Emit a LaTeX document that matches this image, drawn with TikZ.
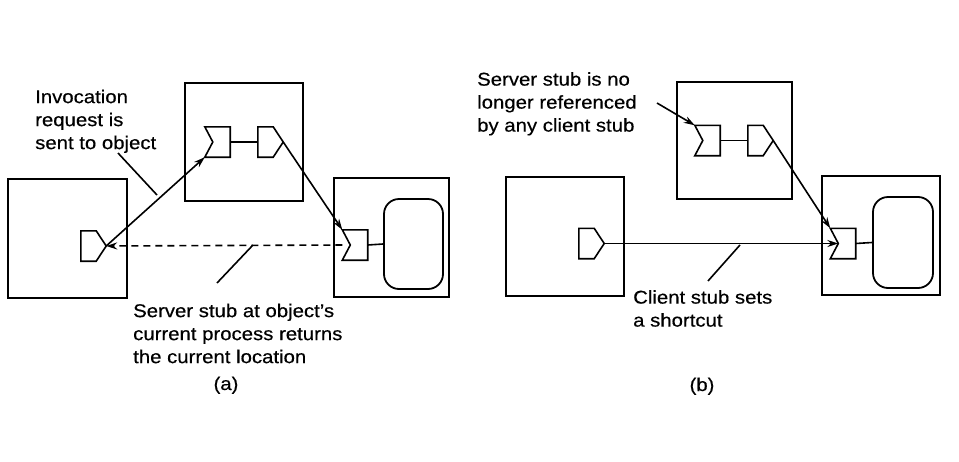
\documentclass[tikz,border=0pt]{standalone}
\usepackage{fontspec}
\setmainfont{Liberation Sans}[FakeStretch=1.1,FakeBold=0.4]
\usetikzlibrary{arrows.meta}
\newcommand\drawserver[1]{\draw[stubline] (#1.north west) -- (#1.north east) -- (#1.south east) -- (#1.south west) -- ([xshift=8pt]#1.west) -- cycle;}
\newcommand\drawclient[1]{\draw[stubline] (#1.north west) -- ([xshift=-10pt]#1.north east) -- (#1.east) -- ([xshift=-10pt]#1.south east) -- (#1.south west) -- cycle;}
\begin{document}
\begin{tikzpicture}[x=1pt,y=-1pt,
  frame/.style={draw, line width=1.8pt, inner sep=0pt},
  objbox/.style={draw, line width=1.8pt, inner sep=0pt, rounded corners=15pt},
  stubnode/.style={inner sep=0pt, minimum width=25pt, minimum height=30pt},
  stubline/.style={line width=1.6pt, line join=miter},
  conn/.style={line width=1.6pt},
  arr/.style={conn, -{Stealth[length=11pt,width=7pt]}},
  lbl/.style={anchor=north west, inner sep=0pt, align=left, font=\fontsize{18.5}{23}\selectfont},
  captext/.style={anchor=base, inner sep=0pt, font=\fontsize{18.5}{23}\selectfont},
]
\useasboundingbox (0,0) rectangle (959,461);
\fill[white] (0,0) rectangle (959,461);

% ---------- panel (a) ----------
\node[frame, minimum width=119pt, minimum height=119pt] (A1) at (67.5,238.5) {};
\node[frame, minimum width=118pt, minimum height=118pt] (A2) at (244,142) {};
\node[frame, minimum width=115pt, minimum height=119pt] (A3) at (391.5,237.5) {};
\node[objbox, minimum width=59pt, minimum height=90pt] (O1) at (413.5,244) {};

\node[stubnode] (cs1) at (93.5,246) {};
\node[stubnode] (ss1) at (217.5,142) {};
\node[stubnode] (cs2) at (270.5,142) {};
\node[stubnode] (ss2) at (355,245) {};
\drawclient{cs1}
\drawserver{ss1}
\drawclient{cs2}
\drawserver{ss2}
\draw[conn] (ss1.east) -- (cs2.west);
\draw[conn] (ss2.east) -- (O1.west);

\draw[arr] (cs1.east) -- (ss1.south west);
\draw[arr] (cs2.east) -- (ss2.north west);
\draw[arr, dashed, dash pattern=on 7pt off 5pt] (ss2.west) -- (cs1.east);

\node[lbl] (L1) at (35,89.5) {Invocation\\request is\\sent to object};
\coordinate (p1a) at (118,153);
\coordinate (p1b) at (157,195);
\draw[conn] (p1a) -- (p1b);

\node[lbl] (L2) at (133,303.5) {Server stub at object{\char"27}s\\current process returns\\the current location};
\coordinate (p2a) at (217,283);
\coordinate (p2b) at (253,245);
\draw[conn] (p2a) -- (p2b);

\node[captext] (capa) at (226,390) {(a)};

% ---------- panel (b) ----------
\node[frame, minimum width=118pt, minimum height=119pt] (B1) at (565,236.5) {};
\node[frame, minimum width=115pt, minimum height=117pt] (B2) at (734.5,140.5) {};
\node[frame, minimum width=118pt, minimum height=119pt] (B3) at (881,235.5) {};
\node[objbox, minimum width=60pt, minimum height=91pt] (O2) at (903,242.5) {};

\node[stubnode] (cs3) at (591.5,243.5) {};
\node[stubnode] (ss3) at (707.5,140.5) {};
\node[stubnode] (cs4) at (760.5,140.5) {};
\node[stubnode] (ss4) at (843,243.5) {};
\drawclient{cs3}
\drawserver{ss3}
\drawclient{cs4}
\drawserver{ss4}
\draw[conn] (ss3.east) -- (cs4.west);
\draw[conn] (ss4.east) -- (O2.west);

\draw[arr] (cs3.east) -- ([xshift=8pt]ss4.west);
\draw[arr] (cs4.east) -- (ss4.north west);

\node[lbl] (L3) at (477,72) {Server stub is no\\longer referenced\\by any client stub};
\coordinate (p3a) at (657,103);
\draw[arr] (p3a) -- (ss3.north west);

\node[lbl] (L4) at (633,290) {Client stub sets\\a shortcut};
\coordinate (p4a) at (708,281);
\coordinate (p4b) at (740,245);
\draw[conn] (p4a) -- (p4b);

\node[captext] (capb) at (702,391) {(b)};
\end{tikzpicture}
\end{document}
